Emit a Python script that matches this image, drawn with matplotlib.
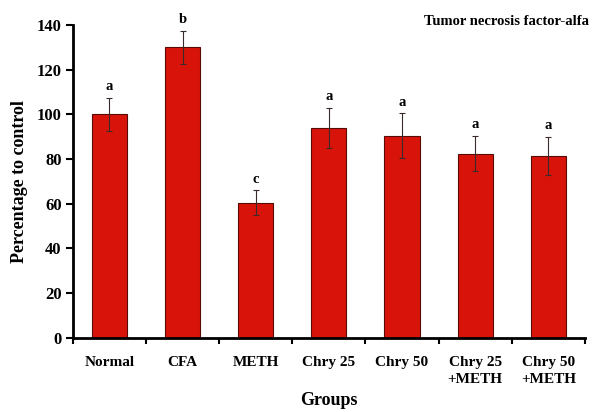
import matplotlib
matplotlib.use('Agg')
import matplotlib.pyplot as plt
import numpy as np

groups = ['Normal', 'CFA', 'METH', 'Chry 25', 'Chry 50', 'Chry 25\n+METH', 'Chry 50\n+METH']
values = [100, 130, 60.5, 94, 90.5, 82.5, 81.5]
errors = [7.5, 7.5, 5.5, 9, 10, 8, 8.5]
letters = ['a', 'b', 'c', 'a', 'a', 'a', 'a']

plt.rcParams['font.family'] = ['Liberation Serif', 'DejaVu Serif']
plt.rcParams['font.weight'] = 'bold'

fig = plt.figure(figsize=(5.92, 4.12), dpi=100)
ax = fig.add_axes([0.123, 0.180, 0.865, 0.759])

x = np.arange(len(groups))
ax.bar(x, values, width=0.48, color='#d8140a', edgecolor='#5a0a05', linewidth=0.8, zorder=2)
ax.errorbar(x, values, yerr=errors, fmt='none', ecolor='#3a2a2a', elinewidth=0.8,
            capsize=2, capthick=0.8, zorder=3)
for xi, v, e, lab in zip(x, values, errors, letters):
    ax.text(xi, v + e + 2, lab, ha='center', va='bottom', fontsize=10.5, fontweight='bold')

ax.set_xlim(-0.5, len(groups) - 0.5)
ax.set_ylim(0, 140)
ax.set_yticks(np.arange(0, 141, 20))
# boundary ticks on the x axis, labels centred under the bars
ax.set_xticks(np.arange(len(groups) + 1) - 0.5, minor=False)
ax.set_xticklabels([])
ax.set_xticks(x, minor=True)
ax.set_xticklabels(groups, minor=True, fontsize=11, fontweight='bold', linespacing=1.45)
ax.tick_params(axis='x', which='minor', length=0, pad=13)
ax.tick_params(axis='x', which='major', length=4, width=1.5, direction='out')
ax.tick_params(axis='y', length=5, width=1.5, direction='out', labelsize=12, pad=3)
for lbl in ax.get_yticklabels():
    lbl.set_fontweight('bold')

for s in ['top', 'right']:
    ax.spines[s].set_visible(False)
for s in ['left', 'bottom']:
    ax.spines[s].set_linewidth(2)

ax.set_ylabel('Percentage to control', fontsize=13, fontweight='bold', labelpad=6)
ax.set_xlabel('Groups', fontsize=13, fontweight='bold', labelpad=4)

fig.text(0.995, 0.947, 'Tumor necrosis factor-alfa', ha='right', va='center',
         fontsize=10.5, fontweight='bold')

fig.savefig('out.png', dpi=100)
